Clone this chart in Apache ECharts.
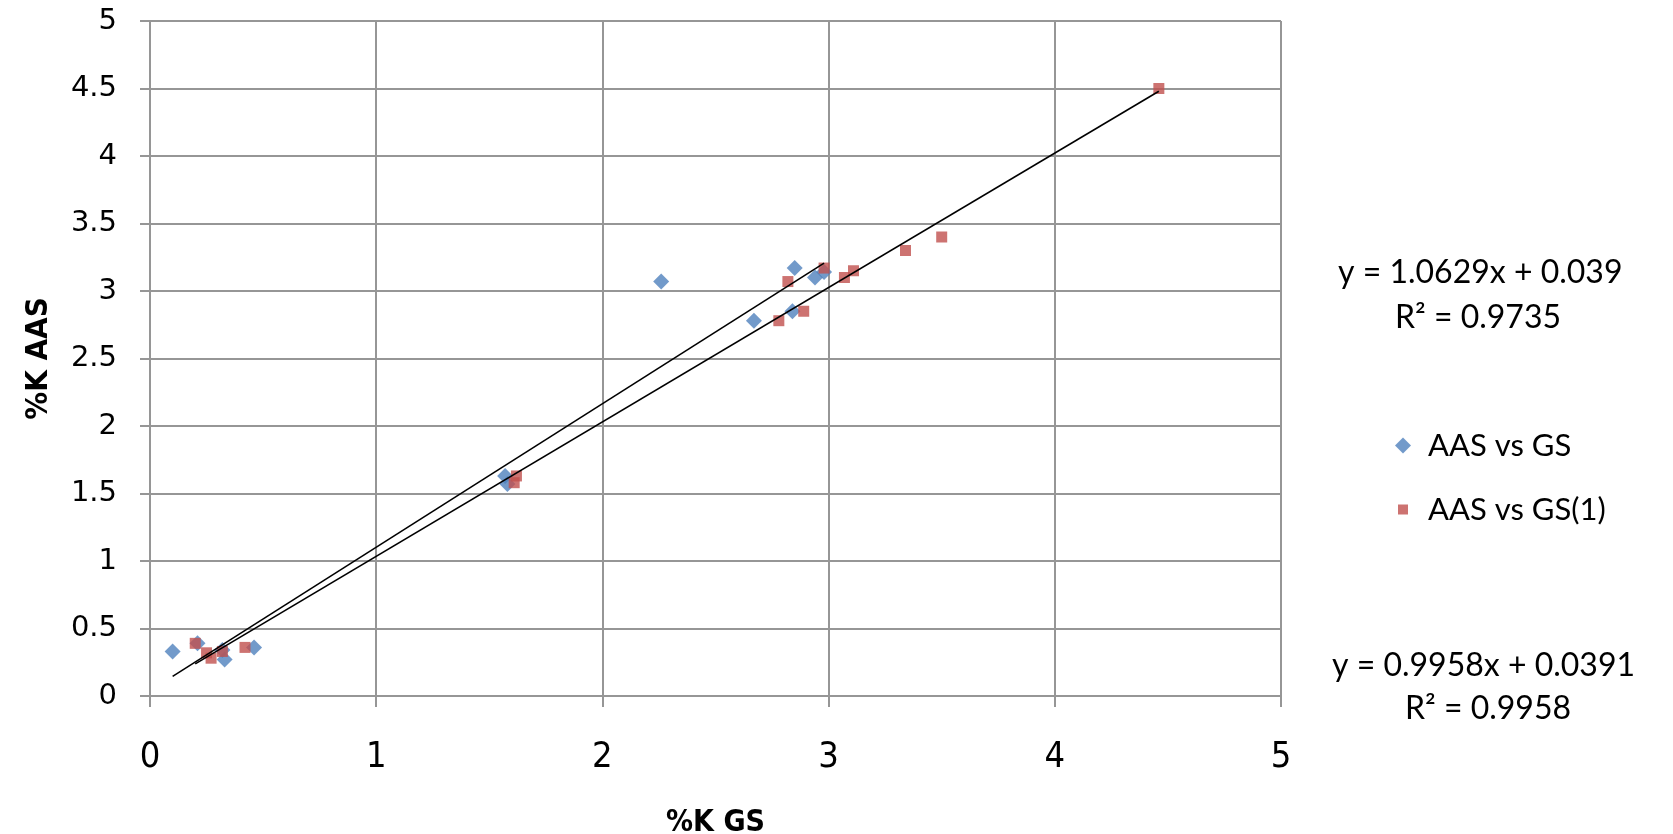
<!DOCTYPE html>
<html>
<head>
<meta charset="utf-8">
<script src="https://cdn.jsdelivr.net/npm/echarts@6/dist/echarts.min.js"></script>
<style>
  html, body { margin: 0; padding: 0; background: #fff; }
  #chart { width: 1673px; height: 834px; }
</style>
</head>
<body>
<div id="chart"></div>
<script>
// %K GS (x) vs %K AAS (y)
const aasVsGs = [
  [0.10, 0.33], [0.21, 0.39], [0.32, 0.34], [0.33, 0.27], [0.46, 0.36],
  [1.57, 1.63], [1.58, 1.57],
  [2.26, 3.07], [2.67, 2.78], [2.84, 2.85], [2.85, 3.17], [2.94, 3.10], [2.98, 3.14]
];
const aasVsGs1 = [
  [0.20, 0.39], [0.25, 0.32], [0.27, 0.28], [0.32, 0.33], [0.42, 0.36],
  [1.61, 1.58], [1.62, 1.63],
  [2.78, 2.78], [2.82, 3.07], [2.89, 2.85], [2.98, 3.17], [3.07, 3.10], [3.11, 3.15],
  [3.34, 3.30], [3.50, 3.40], [4.46, 4.50]
];
// linear trendline end points
const trendGs = [[0.10, 0.145], [2.98, 3.206]];
const trendGs1 = [[0.20, 0.238], [4.46, 4.480]];

const eqGs = ["y = 1.0629x + 0.039", "R² = 0.9735"];
const eqGs1 = ["y = 0.9958x + 0.0391", "R² = 0.9958"];

const gridColor = "#969696";
const font = "Lato, 'Noto Sans', sans-serif";
const narrow = "'Liberation Sans Narrow', 'DejaVu Sans Condensed', Lato, sans-serif";

const chart = echarts.init(document.getElementById("chart"));
chart.setOption({
  animation: false,
  backgroundColor: "#fff",
  grid: { left: 150, top: 21, width: 1131, height: 675, outerBoundsMode: "none", containLabel: false },
  legend: [
    {
      data: [{ name: "AAS vs GS", icon: "diamond" }],
      left: 1390, top: 425,
      itemWidth: 16, itemHeight: 16, itemGap: 0,
      textStyle: { fontFamily: font, fontSize: 31, color: "#000", padding: [0, 0, 0, 12] }
    },
    {
      data: [{ name: "AAS vs GS(1)", icon: "rect" }],
      left: 1393, top: 489,
      itemWidth: 10, itemHeight: 10, itemGap: 0,
      textStyle: { fontFamily: font, fontSize: 31, color: "#000", padding: [0, 0, 0, 15] }
    }
  ],
  xAxis: {
    type: "value", min: 0, max: 5, interval: 1,
    name: "%K GS", nameLocation: "middle", nameGap: 112,
    nameTextStyle: { fontFamily: narrow, fontWeight: "bold", fontSize: 30, color: "#000" },
    axisLine: { show: true, onZero: false, lineStyle: { color: gridColor, width: 2 } },
    axisTick: { show: true, length: 11, lineStyle: { color: gridColor, width: 2 } },
    axisLabel: { margin: 44, fontFamily: narrow, fontSize: 36, color: "#000" },
    splitLine: { show: true, lineStyle: { color: gridColor, width: 2 } }
  },
  yAxis: {
    type: "value", min: 0, max: 5, interval: 0.5,
    name: "%K AAS", nameLocation: "middle", nameGap: 96, nameRotate: 90,
    nameTextStyle: { fontFamily: narrow, fontWeight: "bold", fontSize: 31, color: "#000" },
    axisLine: { show: true, onZero: false, lineStyle: { color: gridColor, width: 2 } },
    axisTick: { show: true, length: 10, lineStyle: { color: gridColor, width: 2 } },
    axisLabel: { margin: 33, fontFamily: "'DejaVu Sans', sans-serif", fontSize: 29, color: "#000" },
    splitLine: { show: true, lineStyle: { color: gridColor, width: 2 } }
  },
  series: [
    {
      name: "AAS vs GS", type: "scatter", data: aasVsGs,
      symbol: "diamond", symbolSize: 16,
      itemStyle: { color: "#4F81BD" }, z: 3
    },
    {
      name: "AAS vs GS(1)", type: "scatter", data: aasVsGs1,
      symbol: "rect", symbolSize: 11,
      itemStyle: { color: "#C0504D" }, z: 4
    },
    {
      name: "trend GS", type: "line", data: trendGs, symbol: "none",
      lineStyle: { color: "#000", width: 1.6 }, z: 5
    },
    {
      name: "trend GS(1)", type: "line", data: trendGs1, symbol: "none",
      lineStyle: { color: "#000", width: 1.6 }, z: 5
    }
  ],
  graphic: [
    { type: "text", left: 1485 - 147, top: 257, style: { text: eqGs[0], font: "32px " + font, fill: "#000" } },
    { type: "text", left: 1485 - 90, top: 302, style: { text: eqGs[1], font: "32px " + font, fill: "#000" } },
    { type: "text", left: 1485 - 153, top: 650, style: { text: eqGs1[0], font: "32px " + font, fill: "#000" } },
    { type: "text", left: 1485 - 80, top: 693, style: { text: eqGs1[1], font: "32px " + font, fill: "#000" } }
  ]
});
</script>
</body>
</html>
